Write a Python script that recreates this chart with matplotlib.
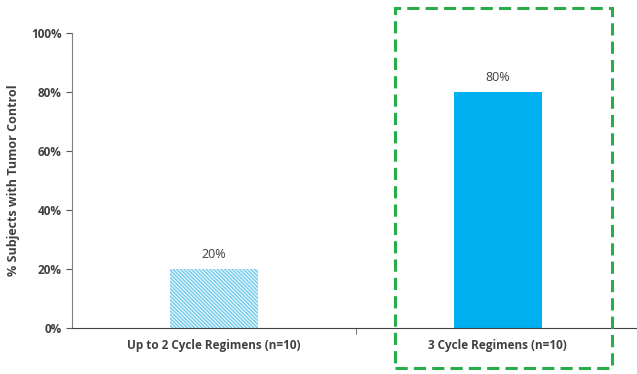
import matplotlib.pyplot as plt
from matplotlib.patches import Rectangle
from matplotlib.ticker import PercentFormatter

# Tumor control by regimen
categories = ['Up to 2 Cycle Regimens (n=10)', '3 Cycle Regimens (n=10)']
pct_control = [20, 80]
value_labels = ['20%', '80%']

plt.rcParams['font.family'] = ['Open Sans', 'DejaVu Sans']
plt.rcParams['hatch.linewidth'] = 0.9
text_col = '#404040'

fig = plt.figure(figsize=(6.37, 3.74), dpi=100)
ax = fig.add_axes([0.113, 0.123, 0.887, 0.789])

x = range(len(categories))
bars = ax.bar(x, pct_control, width=0.31, color=['#e4f5fc', '#00b0f0'],
              linewidth=0, zorder=2)
bars[0].set_hatch('\\' * 9)
bars[0].set_edgecolor('#6fc9ea')

for b, lab in zip(bars, value_labels):
    ax.annotate(lab, (b.get_x() + b.get_width() / 2, b.get_height()),
                xytext=(0, 6), textcoords='offset points', ha='center', va='bottom',
                fontsize=9, color=text_col)

ax.set_xlim(-0.5, 1.49)
ax.set_ylim(0, 100)
ax.set_yticks(range(0, 101, 20))
ax.yaxis.set_major_formatter(PercentFormatter(decimals=0))
ax.set_xticks(list(x))
ax.set_xticklabels(categories)
ax.set_xticks([0.5], minor=True)
ax.tick_params(axis='x', which='major', length=0, pad=8)
ax.tick_params(axis='x', which='minor', length=4, color='#595959')
ax.tick_params(axis='y', length=4, color='#595959')
for lab in ax.get_xticklabels() + ax.get_yticklabels():
    lab.set_fontsize(8.5)
    lab.set_fontweight('bold')
    lab.set_color(text_col)

ax.set_ylabel('% Subjects with Tumor Control', fontsize=9, fontweight='bold',
              color=text_col, labelpad=8)

for s in ['top', 'right']:
    ax.spines[s].set_visible(False)
ax.spines['left'].set_color('#7f7f7f')
ax.spines['bottom'].set_color('#404040')

# highlight box around the 3-cycle group
fig.patches.append(Rectangle((0.620, 0.016), 0.341, 0.963, transform=fig.transFigure,
                             fill=False, edgecolor='#27ad4a', linewidth=2.2,
                             linestyle=(0, (4, 2))))

fig.savefig('out.png', dpi=100)
